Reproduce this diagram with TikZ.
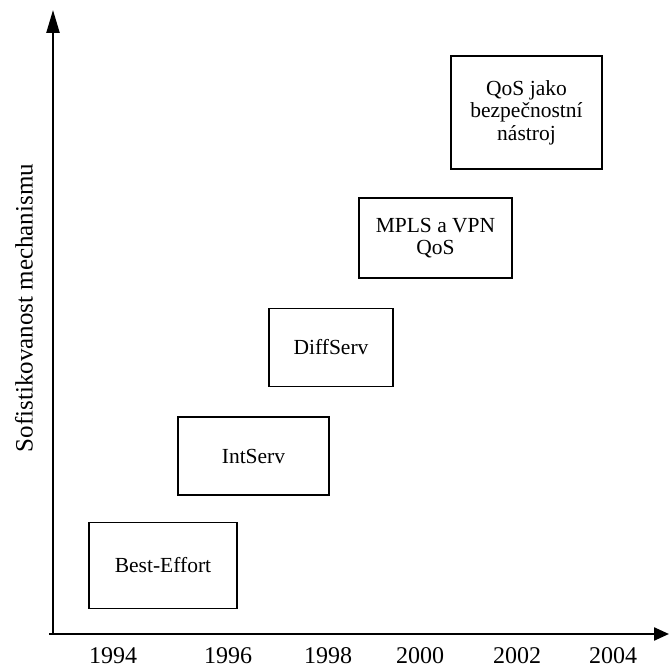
\documentclass[tikz,border=0pt]{standalone}
\usepackage{fontspec}
\setmainfont{Liberation Serif}
\usetikzlibrary{arrows.meta}
\begin{document}
\begin{tikzpicture}[x=1pt,y=1pt,
  axis/.style={line width=2.3pt},
  stage/.style={draw, line width=1.8pt, align=center, inner sep=0pt,
    font=\fontsize{21.5}{22.5}\selectfont},
  year/.style={anchor=base, font=\fontsize{24}{26}\selectfont}]
\useasboundingbox (0,0) rectangle (669,668);

% axes
\coordinate (origin) at (53,34);
\coordinate (ytip) at (53,658);
\coordinate (xstart) at (49,34);
\coordinate (xtip) at (669,34);
\draw[axis, -{Triangle[length=23pt,width=13pt]}] (origin) -- (ytip);
\draw[axis, -{Triangle[length=15pt,width=13pt]}] (xstart) -- (xtip);

% axis label
\node[rotate=90, font=\fontsize{25}{27}\selectfont] (ylabel) at (24,360) {Sofistikovanost mechanismu};

% years
\node[year] (y1994) at (113,4) {1994};
\node[year] (y1996) at (228,4) {1996};
\node[year] (y1998) at (328,4) {1998};
\node[year] (y2000) at (420,4) {2000};
\node[year] (y2002) at (517,4) {2002};
\node[year] (y2004) at (613,4) {2004};

% stages
\node[stage, minimum width=148pt, minimum height=86pt] (be) at (163,102.5) {Best-Effort};
\node[stage, minimum width=151pt, minimum height=78pt] (is) at (253.5,212) {IntServ};
\node[stage, minimum width=124pt, minimum height=78pt] (ds) at (331,320.5) {DiffServ};
\node[stage, minimum width=153pt, minimum height=80pt] (mpls) at (435.5,430) {MPLS a VPN\\QoS};
\node[stage, minimum width=151pt, minimum height=113pt] (sec) at (526.5,555.5) {QoS jako\\bezpečnostní\\nástroj};
\end{tikzpicture}
\end{document}
